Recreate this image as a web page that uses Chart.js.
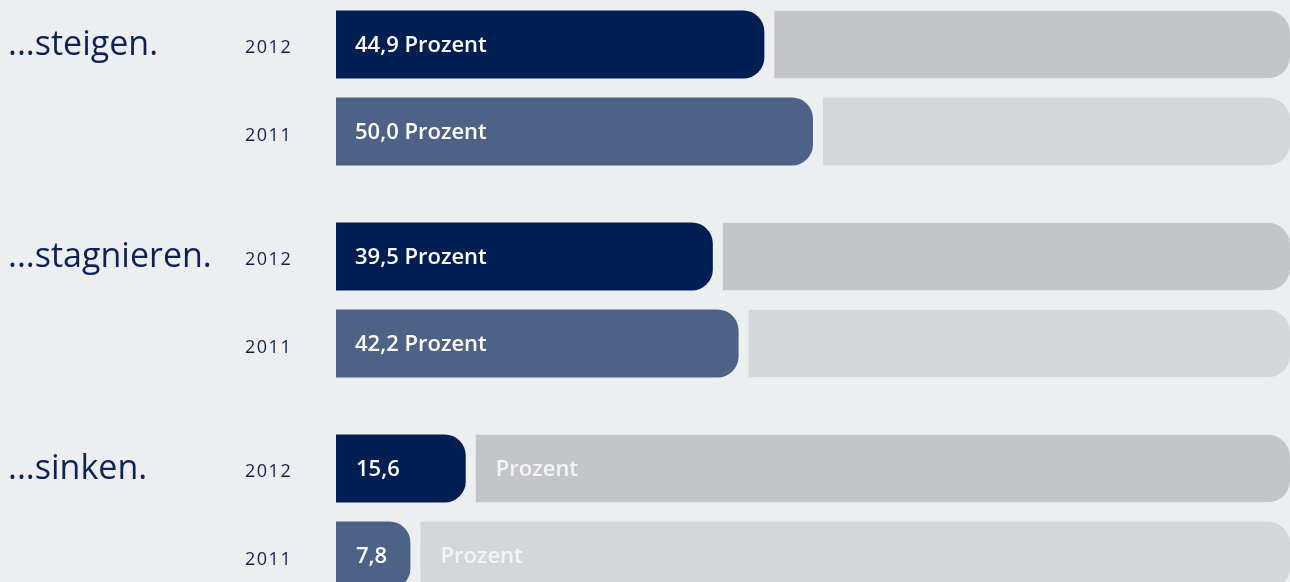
<!DOCTYPE html>
<html lang="de">
<head>
<meta charset="utf-8">
<title>steigen / stagnieren / sinken</title>
<script src="https://cdn.jsdelivr.net/npm/chart.js@4.4.1/dist/chart.umd.min.js"></script>
<style>
  html, body { margin: 0; padding: 0; background: #edeef0; overflow: hidden; }
  #wrap { position: relative; width: 1290px; height: 582px; overflow: hidden; }
  #chart { position: absolute; left: 0; top: -18px; }
</style>
</head>
<body>
<div id="wrap"><canvas id="chart" width="1290" height="636"></canvas></div>
<script>
// data
const categories = ['...steigen.', '...stagnieren.', '...sinken.'];
const years = ['2012', '2011'];
// bar lengths in percent, as drawn (the "15,6" bar is drawn shorter in the original)
const values2012 = [44.9, 39.5, 13.6];
const values2011 = [50.0, 42.2, 7.8];
// printed value labels
const labels2012 = ['44,9', '39,5', '15,6'];
const labels2011 = ['50,0', '42,2', '7,8'];
const unit = 'Prozent';

// colours
const navy = '#001e52';
const blue = '#4e6186';
const grey2012 = '#c4c5c9';
const grey2011 = '#d5d6d9';
const bg = '#edeef0';
const ink = '#0d2358';

// grey remainder: floating bar from the value up to 100
const rest = arr => arr.map(v => [v, 100]);

const restBar = {
  borderSkipped: false,
  borderWidth: { left: 10, top: 0, right: 0, bottom: 0 },
  borderColor: bg,
  borderRadius: { topLeft: 0, bottomLeft: 0, topRight: 22, bottomRight: 22 }
};

// text on the canvas: category, year and value labels
const labelPlugin = {
  id: 'labels',
  afterDatasetsDraw(chart) {
    const ctx = chart.ctx;
    const rows = [
      { meta: chart.getDatasetMeta(0), rest: chart.getDatasetMeta(2), labels: labels2012, year: years[0] },
      { meta: chart.getDatasetMeta(1), rest: chart.getDatasetMeta(3), labels: labels2011, year: years[1] }
    ];
    ctx.save();
    rows.forEach((row, r) => {
      row.meta.data.forEach((bar, i) => {
        const y = bar.y;
        ctx.textAlign = 'left';

        // year
        ctx.textBaseline = 'alphabetic';
        ctx.fillStyle = ink;
        ctx.font = '500 18px "Open Sans"';
        ctx.letterSpacing = '1.5px';
        ctx.fillText(row.year, 245, y + 9);
        ctx.letterSpacing = '0px';

        // category, next to the 2012 row
        if (r === 0) {
          ctx.font = '400 34px "Open Sans"';
          ctx.fillText(categories[i], 8, y + 11);
        }

        // value
        ctx.textBaseline = 'middle';
        ctx.font = '600 22px "Open Sans"';
        ctx.fillStyle = '#ffffff';
        if (bar.x - bar.base > 160) {
          ctx.fillText(row.labels[i] + ' ' + unit, bar.base + 19, y + 1);
        } else {
          ctx.fillText(row.labels[i], bar.base + 20, y + 1);
          ctx.fillStyle = '#f3f4f6';
          ctx.fillText(unit, row.rest.data[i].base + 30, y + 1);
        }
      });
    });
    ctx.restore();
  }
};

new Chart(document.getElementById('chart'), {
  type: 'bar',
  data: {
    labels: categories,
    datasets: [
      { label: years[0], data: values2012, stack: 's2012', backgroundColor: navy, borderRadius: 21 },
      { label: years[1], data: values2011, stack: 's2011', backgroundColor: blue, borderRadius: 21 },
      Object.assign({ label: years[0] + ' Rest', data: rest(values2012), stack: 's2012', backgroundColor: grey2012 }, restBar),
      Object.assign({ label: years[1] + ' Rest', data: rest(values2011), stack: 's2011', backgroundColor: grey2011 }, restBar)
    ]
  },
  options: {
    indexAxis: 'y',
    responsive: false,
    animation: false,
    layout: { padding: { left: 336, right: 0, top: 0, bottom: 0 } },
    datasets: { bar: { categoryPercentage: 0.8208, barPercentage: 0.7816 } },
    scales: {
      x: { stacked: false, min: 0, max: 100, display: false },
      y: { display: false }
    },
    plugins: {
      legend: { display: false },
      tooltip: { enabled: false }
    }
  },
  plugins: [labelPlugin]
});
</script>
</body>
</html>
